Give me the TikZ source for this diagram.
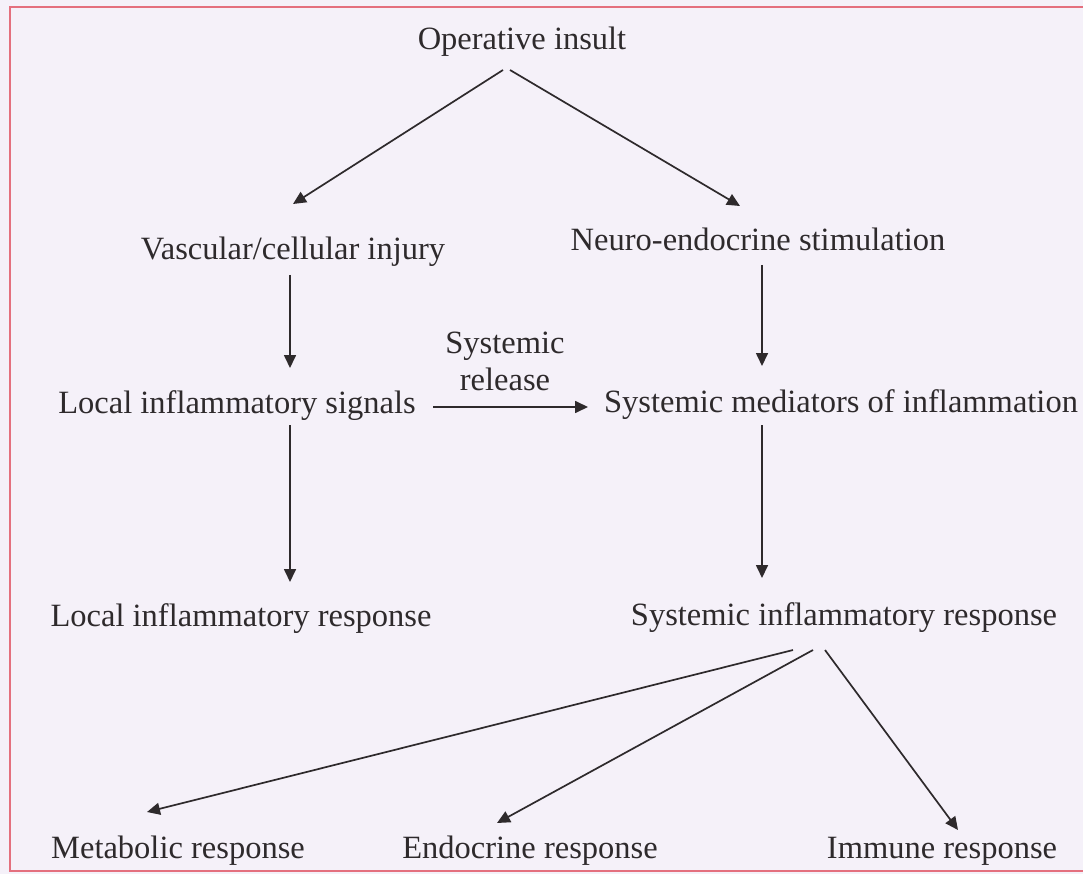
\documentclass[tikz,border=0pt]{standalone}
\usepackage{fontspec}
\setmainfont{Liberation Serif}
\usetikzlibrary{arrows.meta,calc}
\definecolor{bgcol}{HTML}{F5F1F9}
\definecolor{framecol}{HTML}{E4707E}
\definecolor{inkcol}{HTML}{2E2A2C}
\tikzset{
  lbl/.style={inner sep=0pt, anchor=base, text=inkcol, font=\fontsize{32.5}{37}\selectfont},
  arr/.style={draw=inkcol, line width=1.7pt, -{Triangle[length=13pt,width=12pt]}}
}
\begin{document}
\begin{tikzpicture}[x=1pt,y=-1pt]
\useasboundingbox (0,0) rectangle (1083,874);
\fill[bgcol] (0,0) rectangle (1083,874);
\draw[framecol, line width=2.4pt] (1083,7) -- (10,7) -- (10,871) -- (1083,871);

\node[lbl] (op) at (522,50) {Operative insult};
\node[lbl] (vasc) at (293,260) {Vascular/cellular injury};
\node[lbl] (neuro) at (758,251) {Neuro-endocrine stimulation};
\node[lbl, anchor=center, align=center] (rel) at (505,361) {Systemic\\release};
\node[lbl] (lsig) at (237,413) {Local inflammatory signals};
\node[lbl] (smed) at (841,412) {Systemic mediators of inflammation};
\node[lbl] (lresp) at (241,626) {Local inflammatory response};
\node[lbl] (sresp) at (844,625) {Systemic inflammatory response};
\node[lbl] (metab) at (178,858) {Metabolic response};
\node[lbl] (endo) at (530,858) {Endocrine response};
\node[lbl] (immune) at (942,858) {Immune response};

\draw[arr] ($(op.base)+(-19,20)$) -- ($(vasc.base)+(0,-56)$);
\draw[arr] ($(op.base)+(-12,20)$) -- ($(neuro.base)+(-18,-45)$);
\draw[arr] ($(vasc.base)+(-3,15)$) -- ($(lsig.base)+(53,-45)$);
\draw[arr] ($(neuro.base)+(4,14)$) -- ($(smed.base)+(-79,-46)$);
\draw[arr] ($(lsig.base)+(196,-6)$) -- ($(smed.base)+(-253,-5)$);
\draw[arr] ($(lsig.base)+(53,12)$) -- ($(lresp.base)+(49,-44)$);
\draw[arr] ($(smed.base)+(-79,13)$) -- ($(sresp.base)+(-82,-47)$);
\draw[arr] ($(sresp.base)+(-51,25)$) -- ($(metab.base)+(-31,-46)$);
\draw[arr] ($(sresp.base)+(-31,25)$) -- ($(endo.base)+(-33,-35)$);
\draw[arr] ($(sresp.base)+(-19,25)$) -- ($(immune.base)+(16,-28)$);
\end{tikzpicture}
\end{document}
